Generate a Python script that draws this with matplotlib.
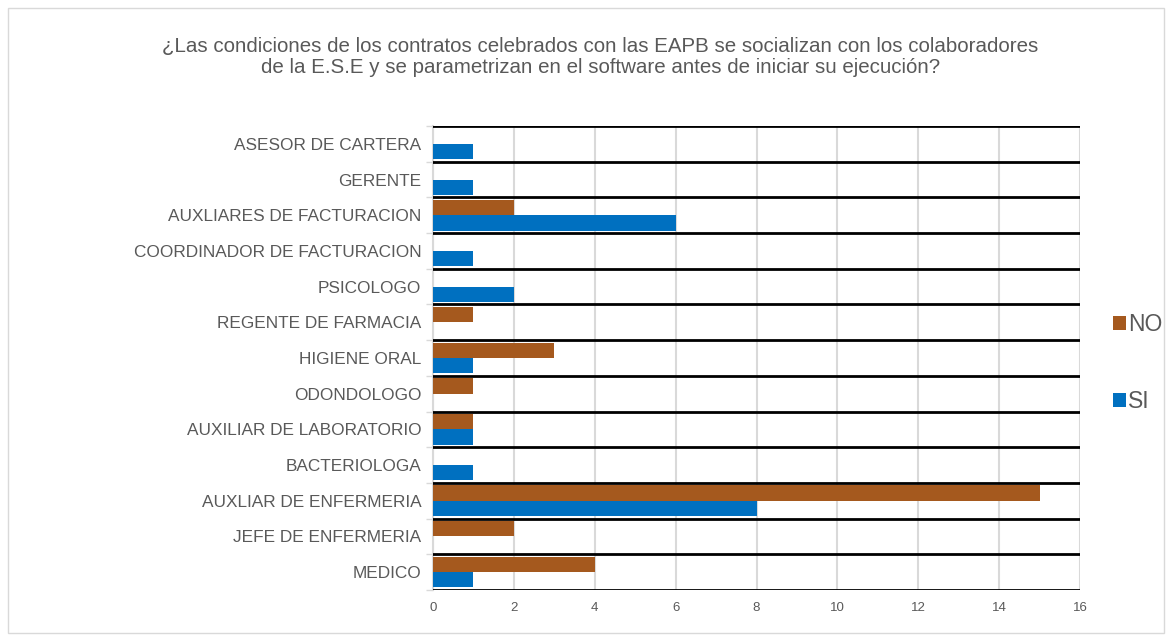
import matplotlib.pyplot as plt
import numpy as np
from matplotlib.patches import Rectangle

plt.rcParams['font.family'] = ['Liberation Sans', 'DejaVu Sans']

categories = ['MEDICO', 'JEFE DE ENFERMERIA', 'AUXLIAR DE ENFERMERIA', 'BACTERIOLOGA',
              'AUXILIAR DE LABORATORIO', 'ODONDOLOGO', 'HIGIENE ORAL', 'REGENTE DE FARMACIA',
              'PSICOLOGO', 'COORDINADOR DE FACTURACION', 'AUXLIARES DE FACTURACION',
              'GERENTE', 'ASESOR DE CARTERA']
si_values = [1, 0, 8, 1, 1, 0, 1, 0, 2, 1, 6, 1, 1]
no_values = [4, 2, 15, 0, 1, 1, 3, 1, 0, 0, 2, 0, 0]
x_ticks = [0, 2, 4, 6, 8, 10, 12, 14, 16]
title = ("¿Las condiciones de los contratos celebrados con las EAPB se socializan con los colaboradores\n"
         "de la E.S.E y se parametrizan en el software antes de iniciar su ejecución?")

blue = '#0070C0'
brown = '#A5591E'
text_gray = '#595959'

fig = plt.figure(figsize=(11.72, 6.41), dpi=100)
ax = fig.add_axes([0.3695, 0.0796, 0.5520, 0.7238])

y = np.arange(len(categories))
h = 0.43
ax.barh(y - h / 2, si_values, height=h, color=blue, label='SI', zorder=3)
ax.barh(y + h / 2, no_values, height=h, color=brown, label='NO', zorder=3)

ax.set_xlim(0, 16)
ax.set_ylim(-0.5, len(categories) - 0.5)
ax.set_xticks(x_ticks)
ax.set_xticklabels([str(t) for t in x_ticks], fontsize=9.5, color=text_gray)
ax.set_yticks(y)
ax.set_yticklabels(categories, fontsize=12.4, color=text_gray)
ax.tick_params(axis='y', length=0, pad=8.5)
ax.tick_params(axis='x', length=0, pad=9)
ax.set_yticks(np.arange(-0.5, len(categories)), minor=True)
ax.tick_params(axis='y', which='minor', length=5, color='#D9D9D9', width=1)

ax.grid(axis='x', color='#D9D9D9', linewidth=1.5, zorder=0)
for b in np.arange(-0.5, len(categories)):
    ax.axhline(b, color='black', linewidth=2, zorder=4)

for s in ['top', 'right', 'bottom']:
    ax.spines[s].set_visible(False)
ax.spines['left'].set_color('#D9D9D9')
ax.spines['left'].set_linewidth(1.5)

fig.text(0.512, 0.911, title, ha='center', va='center', fontsize=14.8, color=text_gray,
         linespacing=1.18)

handles, labels = ax.get_legend_handles_labels()
fig.legend(handles[::-1], labels[::-1], loc='center left', bbox_to_anchor=(0.95, 0.434),
           frameon=False, fontsize=16.5, labelcolor=text_gray, handlelength=0.55,
           handleheight=0.55, handletextpad=0.1, labelspacing=2.35, borderaxespad=0,
           borderpad=0)

fig.add_artist(Rectangle((0.007, 0.013), 0.986, 0.974, transform=fig.transFigure,
                         fill=False, edgecolor='#D9D9D9', linewidth=1))

fig.savefig('out.png', dpi=100)
